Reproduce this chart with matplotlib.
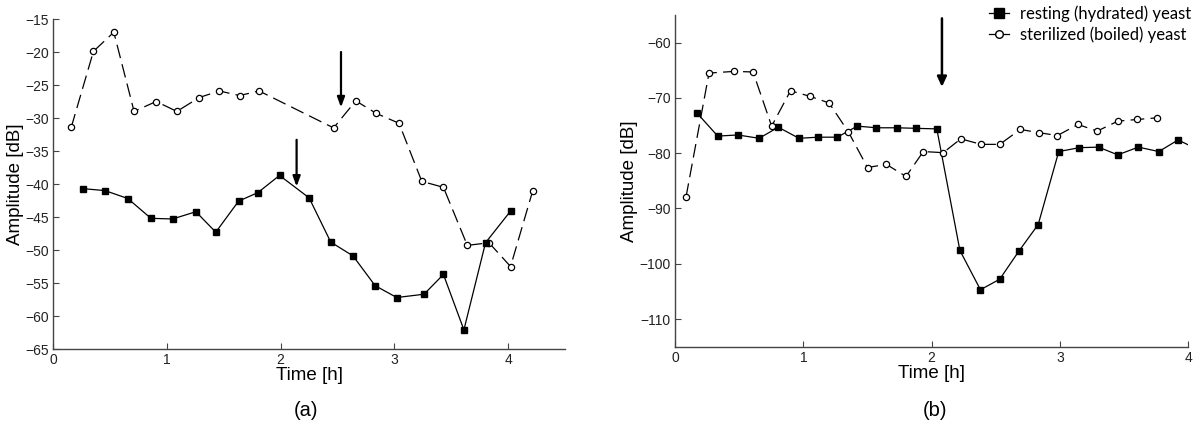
import matplotlib
matplotlib.use("Agg")
import matplotlib.pyplot as plt

plt.rcParams['font.family'] = ['Liberation Sans', 'DejaVu Sans']

# ---- panel (a) data ----
a_boiled_t = [0.16, 0.355, 0.534, 0.712, 0.906, 1.088, 1.284, 1.46, 1.639, 1.81,
              2.465, 2.66, 2.84, 3.04, 3.24, 3.43, 3.64, 3.83, 4.02, 4.215]
a_boiled_db = [-31.4, -19.9, -17.0, -29.0, -27.5, -29.0, -26.9, -25.9, -26.6, -25.9,
               -31.5, -27.4, -29.3, -30.8, -39.6, -40.5, -49.3, -48.9, -52.5, -41.0]
a_rest_t = [0.26, 0.457, 0.657, 0.86, 1.05, 1.255, 1.43, 1.63, 1.80, 1.99,
            2.25, 2.44, 2.636, 2.83, 3.02, 3.26, 3.43, 3.61, 3.80, 4.02]
a_rest_db = [-40.7, -41.0, -42.2, -45.2, -45.3, -44.2, -47.3, -42.6, -41.3, -38.7,
             -42.1, -48.8, -50.9, -55.4, -57.2, -56.7, -53.7, -62.1, -48.9, -44.1]
a_arrows = [(2.53, -20.0, -28.4), (2.14, -33.3, -40.4)]  # (t, y start, y end)

# ---- panel (b) data ----
b_rest_t = [0.174, 0.333, 0.49, 0.655, 0.805, 0.966, 1.117, 1.265, 1.42, 1.57, 1.73,
            1.88, 2.04, 2.22, 2.38, 2.53, 2.68, 2.83, 2.99, 3.15, 3.30, 3.45, 3.61,
            3.77, 3.92, 4.08]
b_rest_db = [-72.8, -76.9, -76.7, -77.3, -75.3, -77.3, -77.1, -77.1, -75.1, -75.4, -75.4,
             -75.5, -75.6, -97.6, -104.7, -102.8, -97.7, -92.9, -79.7, -79.0, -78.9, -80.3,
             -78.9, -79.7, -77.6, -79.4]
b_boiled_t = [0.086, 0.265, 0.46, 0.608, 0.753, 0.90, 1.05, 1.20, 1.35, 1.50, 1.645,
              1.80, 1.935, 2.09, 2.227, 2.385, 2.53, 2.69, 2.84, 2.98, 3.14, 3.29,
              3.45, 3.60, 3.755]
b_boiled_db = [-87.9, -65.5, -65.2, -65.3, -75.1, -68.7, -69.7, -70.9, -76.1, -82.6, -82.0,
               -84.2, -79.7, -79.9, -77.4, -78.4, -78.4, -75.7, -76.3, -76.8, -74.8, -76.0,
               -74.2, -73.9, -73.6]
b_arrow = (2.08, -55.6, -68.0)

fig = plt.figure(figsize=(12, 4.42), dpi=100)
ax1 = fig.add_axes([0.0442, 0.2104, 0.4268, 0.7466])
ax2 = fig.add_axes([0.5625, 0.2157, 0.4278, 0.7503])

rest_style = dict(color='black', lw=0.9, marker='s', markersize=5,
                  markerfacecolor='black', markeredgecolor='black')
boiled_style = dict(color='black', lw=0.9, marker='o', markersize=4.5,
                    markerfacecolor='white', markeredgecolor='black', markeredgewidth=0.9)

ax1.plot(a_boiled_t, a_boiled_db, dashes=(11, 5), **boiled_style)
ax1.plot(a_rest_t, a_rest_db, **rest_style)
for t, y0, y1 in a_arrows:
    ax1.annotate('', xy=(t, y1), xytext=(t, y0),
                 arrowprops=dict(arrowstyle='-|>,head_length=0.6,head_width=0.22',
                                 color='black', lw=1.6, shrinkA=0, shrinkB=0))
ax1.set_xlim(0, 4.5)
ax1.set_ylim(-65, -15)
ax1.set_xticks([0, 1, 2, 3, 4])
ax1.set_yticks(range(-65, -14, 5))

ax2.plot(b_rest_t, b_rest_db, **rest_style)
ax2.plot(b_boiled_t, b_boiled_db, dashes=(11, 5), **boiled_style)
t, y0, y1 = b_arrow
ax2.annotate('', xy=(t, y1), xytext=(t, y0),
             arrowprops=dict(arrowstyle='-|>,head_length=0.6,head_width=0.28',
                             color='black', lw=1.8, shrinkA=0, shrinkB=0))
ax2.set_xlim(0, 4)
ax2.set_ylim(-115, -55)
ax2.set_xticks([0, 1, 2, 3, 4])
ax2.set_yticks([-110, -100, -90, -80, -70, -60])

leg_h1, = ax2.plot([], [], color='black', lw=0.9, marker='s', markersize=7,
                   markerfacecolor='black')
leg_h2, = ax2.plot([], [], color='black', lw=0.9, marker='o', markersize=5.5,
                   markerfacecolor='white')
ax2.legend([leg_h1, leg_h2], ['resting (hydrated) yeast', 'sterilized (boiled) yeast'],
           loc='upper right', bbox_to_anchor=(1.035, 1.075), frameon=False,
           handlelength=1.2, handletextpad=0.7, labelspacing=0.3,
           prop={'family': 'Lato', 'size': 12})

for ax in (ax1, ax2):
    for s in ('top', 'right'):
        ax.spines[s].set_visible(False)
    for s in ('left', 'bottom'):
        ax.spines[s].set_color('#444444')
        ax.spines[s].set_linewidth(1.0)
    ax.tick_params(direction='in', length=4, width=0.8, labelsize=10,
                   colors='#444444', labelcolor='#222222', pad=3)
    ax.set_xlabel('Time [h]', fontsize=13.5, labelpad=0)
    ax.set_ylabel('Amplitude [dB]', fontsize=13.5, labelpad=1)

fig.text(0.255, 0.072, '(a)', ha='center', va='center', fontsize=14.5)
fig.text(0.779, 0.072, '(b)', ha='center', va='center', fontsize=14.5)

fig.savefig('out.png', dpi=100)
